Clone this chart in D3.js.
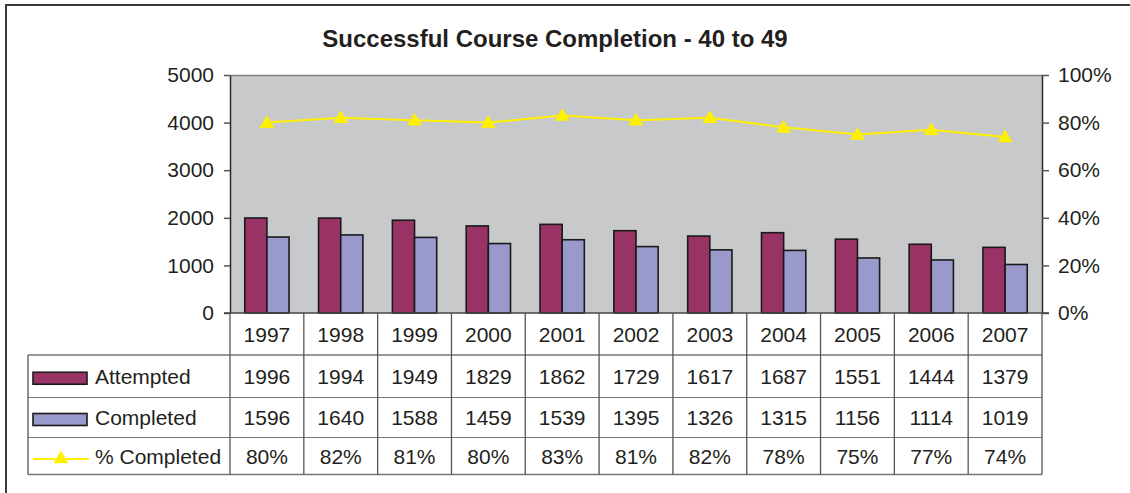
<!DOCTYPE html>
<html>
<head>
<meta charset="utf-8">
<script src="https://cdn.jsdelivr.net/npm/d3@7"></script>
<style>
  html, body { margin: 0; padding: 0; background: #ffffff; }
  svg { display: block; font-family: "Liberation Sans", Arial, sans-serif; }
</style>
</head>
<body>
<svg id="chart" width="1130" height="493"></svg>
<script>
// Course completion counts for ages 40 to 49, by year
const years = ["1997", "1998", "1999", "2000", "2001", "2002", "2003", "2004", "2005", "2006", "2007"];
const attempted = [1996, 1994, 1949, 1829, 1862, 1729, 1617, 1687, 1551, 1444, 1379];
const completed = [1596, 1640, 1588, 1459, 1539, 1395, 1326, 1315, 1156, 1114, 1019];
const pctCompleted = [80, 82, 81, 80, 83, 81, 82, 78, 75, 77, 74];
const countTicks = [0, 1000, 2000, 3000, 4000, 5000];
const pctTicks = [0, 20, 40, 60, 80, 100];
const seriesNames = ["Attempted", "Completed", "% Completed"];

const colors = {
  attempted: "#993366",
  completed: "#9999CC",
  line: "#FFF000",
  plotBg: "#C8C9CB",
  text: "#231F20",
  grid: "#777777"
};

const svg = d3.select("#chart");
const W = 1130, H = 493;
const FS = 21;

const plot = { left: 230, right: 1042, top: 75, bottom: 313 };
const table = { left: 28, rows: [313, 355, 397.5, 437.5, 474.5] };

// Outer chart frame (runs off the right and bottom edges)
svg.append("rect")
  .attr("x", 6).attr("y", 5)
  .attr("width", W + 20).attr("height", H + 20)
  .attr("fill", "#ffffff")
  .attr("stroke", "#3a3a3a").attr("stroke-width", 2);

// Title
svg.append("text")
  .attr("x", 555).attr("y", 47)
  .attr("text-anchor", "middle")
  .attr("font-size", 24).attr("font-weight", "bold")
  .attr("fill", colors.text)
  .text("Successful Course Completion - 40 to 49");

// Scales
const x = d3.scaleBand().domain(years).range([plot.left, plot.right]).padding(0);
const inner = d3.scaleBand().domain(["attempted", "completed"])
  .range([0, x.bandwidth() * 0.6]);
const innerOffset = x.bandwidth() * 0.2;
const y = d3.scaleLinear().domain([0, 5000]).range([plot.bottom, plot.top]);
const yPct = d3.scaleLinear().domain([0, 100]).range([plot.bottom, plot.top]);

// Plot area
svg.append("rect")
  .attr("x", plot.left).attr("y", plot.top)
  .attr("width", plot.right - plot.left).attr("height", plot.bottom - plot.top)
  .attr("fill", colors.plotBg);
svg.append("line")
  .attr("x1", plot.left).attr("x2", plot.right)
  .attr("y1", plot.top + 0.5).attr("y2", plot.top + 0.5)
  .attr("stroke", "#808080").attr("stroke-width", 1.5);

// Bars
const barData = years.map((yr, i) => ({ yr, attempted: attempted[i], completed: completed[i] }));
const groups = svg.append("g").selectAll("g")
  .data(barData).join("g")
  .attr("transform", d => `translate(${x(d.yr) + innerOffset},0)`);
groups.selectAll("rect")
  .data(d => [["attempted", d.attempted], ["completed", d.completed]])
  .join("rect")
  .attr("x", d => inner(d[0]))
  .attr("y", d => y(d[1]))
  .attr("width", inner.bandwidth())
  .attr("height", d => y(0) - y(d[1]))
  .attr("fill", d => colors[d[0]])
  .attr("stroke", "#1a1a1a").attr("stroke-width", 1.6);

// Percentage line with triangle markers
const pts = years.map((yr, i) => [x(yr) + x.bandwidth() / 2, yPct(pctCompleted[i])]);
svg.append("path")
  .attr("d", d3.line()(pts))
  .attr("fill", "none").attr("stroke", colors.line).attr("stroke-width", 2);
const tri = d3.symbol().type(d3.symbolTriangle).size(95);
svg.append("g").selectAll("path")
  .data(pts).join("path")
  .attr("d", tri)
  .attr("transform", d => `translate(${d[0]},${d[1] + 1})`)
  .attr("fill", colors.line);

// Axes
const leftAxis = svg.append("g")
  .attr("transform", `translate(${plot.left},0)`)
  .call(d3.axisLeft(y).tickValues(countTicks).tickSize(6).tickPadding(10).tickSizeOuter(0)
    .tickFormat(d3.format("d")));
const rightAxis = svg.append("g")
  .attr("transform", `translate(${plot.right},0)`)
  .call(d3.axisRight(yPct).tickValues(pctTicks).tickSize(7).tickPadding(9).tickSizeOuter(0)
    .tickFormat(d => d + "%"));
[leftAxis, rightAxis].forEach(a => {
  a.select(".domain").attr("stroke", "#2a2a2a").attr("stroke-width", 1.5);
  a.selectAll(".tick line").attr("stroke", "#555555").attr("stroke-width", 1.5);
  a.selectAll(".tick text")
    .attr("font-size", FS).attr("font-family", "Liberation Sans, Arial, sans-serif")
    .attr("fill", colors.text);
});
svg.append("line")
  .attr("x1", plot.left - 6).attr("x2", plot.right + 7)
  .attr("y1", plot.bottom).attr("y2", plot.bottom)
  .attr("stroke", "#444444").attr("stroke-width", 1.5);

// Data table below the plot
const tg = svg.append("g");
const rows = table.rows;
// horizontal rules (year row has no legend cell)
[rows[1], rows[2], rows[3], rows[4]].forEach((ry, i) => {
  tg.append("line")
    .attr("x1", table.left).attr("x2", plot.right)
    .attr("y1", ry).attr("y2", ry)
    .attr("stroke", colors.grid).attr("stroke-width", i === 0 || i === 3 ? 1.6 : 1.2);
});
// vertical rules at category boundaries
const bounds = years.map(yr => x(yr)).concat([plot.right]);
tg.selectAll("line.v")
  .data(bounds).join("line")
  .attr("class", "v")
  .attr("x1", d => d).attr("x2", d => d)
  .attr("y1", rows[0]).attr("y2", rows[4])
  .attr("stroke", "#555555").attr("stroke-width", 1.3);
tg.append("line")
  .attr("x1", table.left).attr("x2", table.left)
  .attr("y1", rows[1]).attr("y2", rows[4])
  .attr("stroke", "#555555").attr("stroke-width", 1.3);

const rowMid = i => (rows[i] + rows[i + 1]) / 2;
const baseline = i => rowMid(i) + FS * 0.36;

const tableRows = [
  years,
  attempted.map(String),
  completed.map(String),
  pctCompleted.map(v => v + "%")
];
tableRows.forEach((vals, r) => {
  tg.append("g").selectAll("text")
    .data(vals).join("text")
    .attr("x", (d, i) => x(years[i]) + x.bandwidth() / 2)
    .attr("y", baseline(r))
    .attr("text-anchor", "middle")
    .attr("font-size", FS).attr("fill", colors.text)
    .text(d => d);
});

// Legend cells
const legendX = 33, legendTextX = 95;
[["attempted", 1], ["completed", 2]].forEach(([key, r]) => {
  tg.append("rect")
    .attr("x", legendX).attr("y", rowMid(r) - 4)
    .attr("width", 54).attr("height", 12)
    .attr("fill", colors[key]).attr("stroke", "#1a1a1a").attr("stroke-width", 1.6);
  tg.append("text")
    .attr("x", legendTextX).attr("y", baseline(r))
    .attr("font-size", FS).attr("fill", colors.text)
    .text(seriesNames[r - 1]);
});
tg.append("line")
  .attr("x1", legendX).attr("x2", legendX + 56)
  .attr("y1", rowMid(3) + 3).attr("y2", rowMid(3) + 3)
  .attr("stroke", colors.line).attr("stroke-width", 2);
tg.append("path")
  .attr("d", tri)
  .attr("transform", `translate(${legendX + 28},${rowMid(3) + 3})`)
  .attr("fill", colors.line);
tg.append("text")
  .attr("x", legendTextX).attr("y", baseline(3))
  .attr("font-size", FS).attr("fill", colors.text)
  .text(seriesNames[2]);
</script>
</body>
</html>
